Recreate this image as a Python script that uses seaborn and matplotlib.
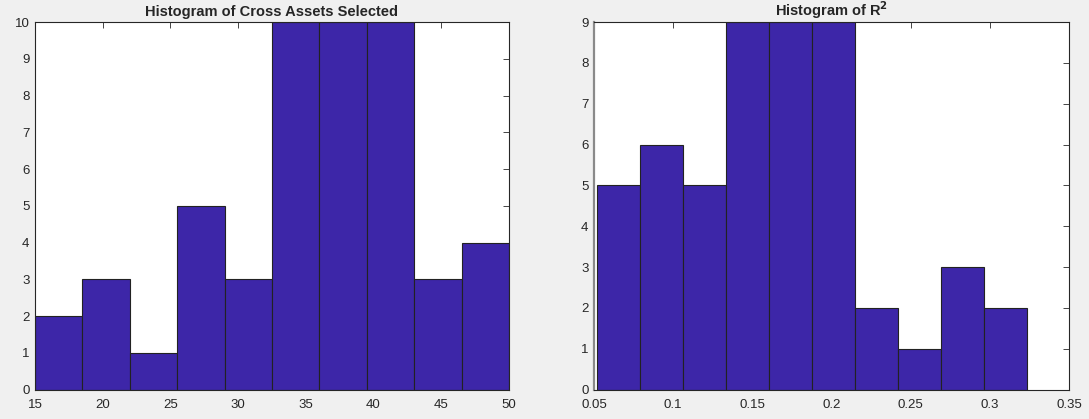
import numpy as np
import pandas as pd
import seaborn as sns
import matplotlib
matplotlib.use('Agg')
import matplotlib.pyplot as plt

# Histogram data
assets_edges = np.linspace(15, 50, 11)
assets_counts = [2, 3, 1, 5, 3, 10, 10, 10, 3, 4]

r2_edges = np.linspace(0.0517, 0.3233, 11)
r2_counts = [5, 6, 5, 9, 9, 9, 2, 1, 3, 2]

assets_ticks = [15, 20, 25, 30, 35, 40, 45, 50]
r2_ticks = [0.05, 0.1, 0.15, 0.2, 0.25, 0.3, 0.35]
r2_ticklabels = ['0.05', '0.1', '0.15', '0.2', '0.25', '0.3', '0.35']

bar_color = '#3D26A8'

sns.set_style('white')
plt.rcParams['font.family'] = ['Liberation Sans', 'DejaVu Sans']

fig = plt.figure(figsize=(10.89, 4.19), dpi=100, facecolor='#F0F0F0')
ax1 = fig.add_axes([0.0321, 0.0704, 0.4353, 0.877])
ax2 = fig.add_axes([0.5455, 0.0704, 0.4362, 0.877])


def draw_hist(ax, edges, counts):
    df = pd.DataFrame({'x': (edges[:-1] + edges[1:]) / 2, 'n': counts})
    sns.histplot(data=df, x='x', weights='n', bins=list(edges), ax=ax,
                 color=bar_color, alpha=1, edgecolor='#222222', linewidth=0.8)
    ax.set_facecolor('white')
    ax.set_xlabel('')
    ax.set_ylabel('')
    for s in ax.spines.values():
        s.set_color('#262626')
        s.set_linewidth(0.8)
    ax.tick_params(direction='in', top=True, right=True, length=4, width=0.6,
                   labelsize=9.5, colors='#262626')
    ax.tick_params(axis='x', pad=7)
    ax.tick_params(axis='y', pad=4)


draw_hist(ax1, assets_edges, assets_counts)
ax1.set_xlim(15, 50)
ax1.set_ylim(0, 10)
ax1.set_xticks(assets_ticks)
ax1.set_yticks(range(0, 11))
ax1.set_title('Histogram of Cross Assets Selected', fontsize=10.5, fontweight='bold', pad=4)

draw_hist(ax2, r2_edges, r2_counts)
ax2.set_xlim(0.05, 0.35)
ax2.set_ylim(0, 9)
ax2.set_xticks(r2_ticks)
ax2.set_xticklabels(r2_ticklabels)
ax2.set_yticks(range(0, 10))
ax2.spines['left'].set_color('#8a8a8a')
ax2.spines['left'].set_linewidth(1.6)
ax2.set_title('Histogram of R$^{\\mathbf{2}}$', fontsize=10.5, fontweight='bold', pad=4)

fig.savefig('out.png', dpi=100, facecolor=fig.get_facecolor())
